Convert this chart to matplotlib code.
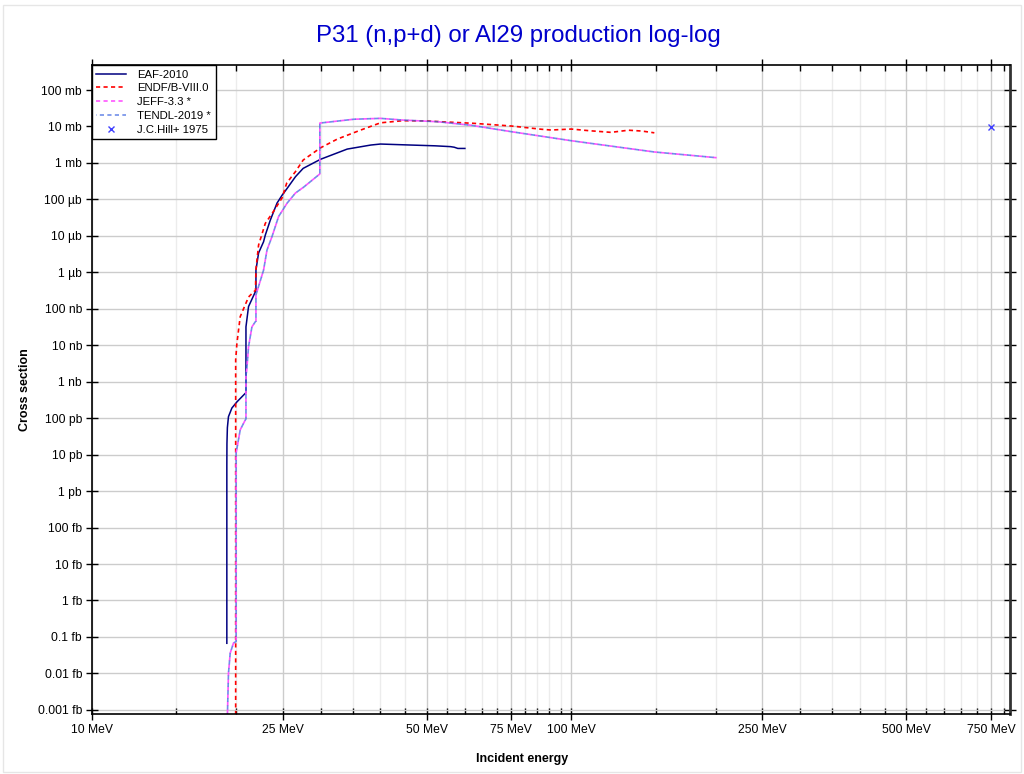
import numpy as np
import matplotlib
matplotlib.use("Agg")
import matplotlib.pyplot as plt
from matplotlib.ticker import FixedLocator, NullFormatter
from matplotlib.patches import Rectangle

plt.rcParams['font.family'] = ['Liberation Sans', 'DejaVu Sans']

# energies in MeV, cross sections in barns
eaf_e = [19.13, 19.13, 19.14, 19.18, 19.28, 19.60, 20.08, 20.90, 20.97, 20.97, 21.23, 21.93,
         22.0, 22.0, 22.28, 22.82, 23.01, 23.57, 24.34, 24.94, 25.55, 26.6, 27.6, 30.0, 34.1,
         38.2, 40.0, 44.5, 48.0, 52.0, 56.0, 57.0, 58.0, 60.0]
eaf_xs = [6.7e-17, 5e-12, 2e-11, 5.5e-11, 1.1e-10, 1.9e-10, 2.8e-10, 4.8e-10, 5e-10, 3.2e-8,
          1.15e-7, 2.9e-7, 3.2e-7, 1.15e-6, 3.4e-6, 6.9e-6, 1.05e-5, 2.7e-5, 7.9e-5, 1.3e-4,
          2.0e-4, 4.2e-4, 7.1e-4, 1.26e-3, 2.4e-3, 3.1e-3, 3.3e-3, 3.15e-3, 3.05e-3, 2.95e-3,
          2.8e-3, 2.7e-3, 2.5e-3, 2.5e-3]

endf_e = [19.96, 19.96, 20.08, 20.40, 21.23, 21.75, 21.95, 22.0, 22.11, 22.28, 23.01, 23.91,
          24.94, 25.5, 26.6, 27.6, 30.0, 32.5, 36.4, 40.0, 44.5, 50.0, 53.4, 62.6, 75.0, 86.6,
          90.8, 100.0, 108.5, 121.0, 131.6, 140.3, 149.0]
endf_xs = [1e-20, 4.0e-9, 1.15e-8, 6.1e-8, 2.1e-7, 2.9e-7, 3.2e-7, 1.2e-6, 2.2e-6, 5.6e-6,
           2.2e-5, 4.6e-5, 1.1e-4, 2.8e-4, 5.8e-4, 1.2e-3, 2.6e-3, 4.5e-3, 8.0e-3, 1.26e-2,
           1.44e-2, 1.42e-2, 1.35e-2, 1.22e-2, 1.03e-2, 8.4e-3, 8.0e-3, 8.5e-3, 7.7e-3, 6.9e-3,
           7.9e-3, 7.5e-3, 6.7e-3]

jeff_e = [19.17, 19.28, 19.44, 19.75, 20.0, 20.0, 20.40, 20.90, 20.97, 20.97, 21.05, 21.23,
          21.58, 21.93, 22.0, 22.0, 22.82, 23.20, 23.76, 24.53, 25.55, 26.6, 27.7, 29.9, 29.9,
          35.2, 40.0, 44.5, 52.7, 61.8, 75.0, 100.0, 149.0, 201.0]
jeff_xs = [5e-19, 1.0e-17, 3.6e-17, 6.8e-17, 7.5e-17, 1.1e-11, 4.8e-11, 8.9e-11, 9.5e-11,
           1.5e-9, 2.1e-9, 9.1e-9, 3.2e-8, 4.4e-8, 4.6e-8, 2.4e-7, 1.15e-6, 4.1e-6, 9.5e-6,
           3.4e-5, 7.9e-5, 1.5e-4, 2.2e-4, 5.0e-4, 1.24e-2, 1.58e-2, 1.67e-2, 1.5e-2, 1.35e-2,
           1.08e-2, 7.2e-3, 4.07e-3, 2.0e-3, 1.39e-3]

# TENDL-2019 lies on top of JEFF-3.3
tendl_e = jeff_e
tendl_xs = jeff_xs

hill_e = [750.0]
hill_xs = [9.7e-3]

x_major = [10, 25, 50, 75, 100, 250, 500, 750]
x_major_labels = ['10 MeV', '25 MeV', '50 MeV', '75 MeV', '100 MeV', '250 MeV', '500 MeV', '750 MeV']
x_minor = [15, 20, 30, 35, 40, 45, 55, 60, 65, 70, 80, 85, 90, 95, 150, 200,
           300, 350, 400, 450, 550, 600, 650, 700, 800]
y_major = [1e-18, 1e-17, 1e-16, 1e-15, 1e-14, 1e-13, 1e-12, 1e-11, 1e-10, 1e-9,
           1e-8, 1e-7, 1e-6, 1e-5, 1e-4, 1e-3, 1e-2, 1e-1]
y_labels = ['0.001 fb', '0.01 fb', '0.1 fb', '1 fb', '10 fb', '100 fb', '1 pb', '10 pb',
            '100 pb', '1 nb', '10 nb', '100 nb', '1 µb', '10 µb', '100 µb', '1 mb', '10 mb',
            '100 mb']

fig = plt.figure(figsize=(10.24, 7.74), dpi=100)
ax = fig.add_axes([0.0896, 0.0775, 0.8967, 0.8385])

ax.plot(eaf_e, eaf_xs, color='#000080', lw=1.1, label='EAF-2010')
ax.plot(endf_e, endf_xs, color='#ff0000', lw=1.2, linestyle=(0, (2.5, 2)), label='ENDF/B-VIII.0')
ax.plot(jeff_e, jeff_xs, color='#ff55ff', lw=1.2, linestyle=(0, (2.5, 2)), label='JEFF-3.3 *')
ax.plot(tendl_e, tendl_xs, color='#4169e1', lw=1.2, linestyle=(2.2, (2.5, 2)), alpha=0.75,
        label='TENDL-2019 *')
ax.plot(hill_e, hill_xs, linestyle='none', marker='x', color='#4040ff', markersize=5,
        mew=1.0, label='J.C.Hill+ 1975')

ax.set_xscale('log')
ax.set_yscale('log')
ax.set_xlim(10, 822)
ax.set_ylim(7.7e-19, 0.485)

ax.xaxis.set_major_locator(FixedLocator(x_major))
ax.set_xticklabels(x_major_labels)
ax.xaxis.set_minor_locator(FixedLocator(x_minor))
ax.xaxis.set_minor_formatter(NullFormatter())
ax.yaxis.set_major_locator(FixedLocator(y_major))
ax.set_yticklabels(y_labels)
ax.yaxis.set_minor_locator(FixedLocator([]))

ax.tick_params(which='major', direction='inout', length=8, width=1, labelsize=8.7,
               top=True, right=True, pad=3)
ax.tick_params(which='minor', direction='in', length=4, width=1, top=True, right=True)

ax.grid(which='major', color='#cccccc', lw=1)
ax.grid(which='minor', axis='x', color='#ececec', lw=1)
ax.set_axisbelow(True)

for side in ['left', 'bottom', 'top']:
    ax.spines[side].set_color('black')
    ax.spines[side].set_linewidth(1.2)
ax.spines['right'].set_color('#333333')
ax.spines['right'].set_linewidth(2)

leg = ax.legend(loc='upper left', bbox_to_anchor=(0, 1), borderaxespad=0, fontsize=8.2,
                handlelength=2.6, handletextpad=1.0, labelspacing=0.33, fancybox=False,
                framealpha=1, edgecolor='black', borderpad=0.4)
leg.get_frame().set_linewidth(1)

fig.text(0.506, 0.953, 'P31 (n,p+d) or Al29 production log-log', color='#0000cc',
         fontsize=17.3, ha='center', va='center')
fig.text(0.51, 0.02, 'Incident energy', fontsize=9, fontweight='bold', ha='center', va='center')
fig.text(0.024, 0.497, 'Cross section', fontsize=9, fontweight='bold', rotation=90,
         ha='center', va='center')

fig.patches.append(Rectangle((0.003, 0.003), 0.994, 0.99, transform=fig.transFigure,
                             fill=False, edgecolor='#e6e6e6', lw=1))

fig.savefig('out.png', dpi=100)
